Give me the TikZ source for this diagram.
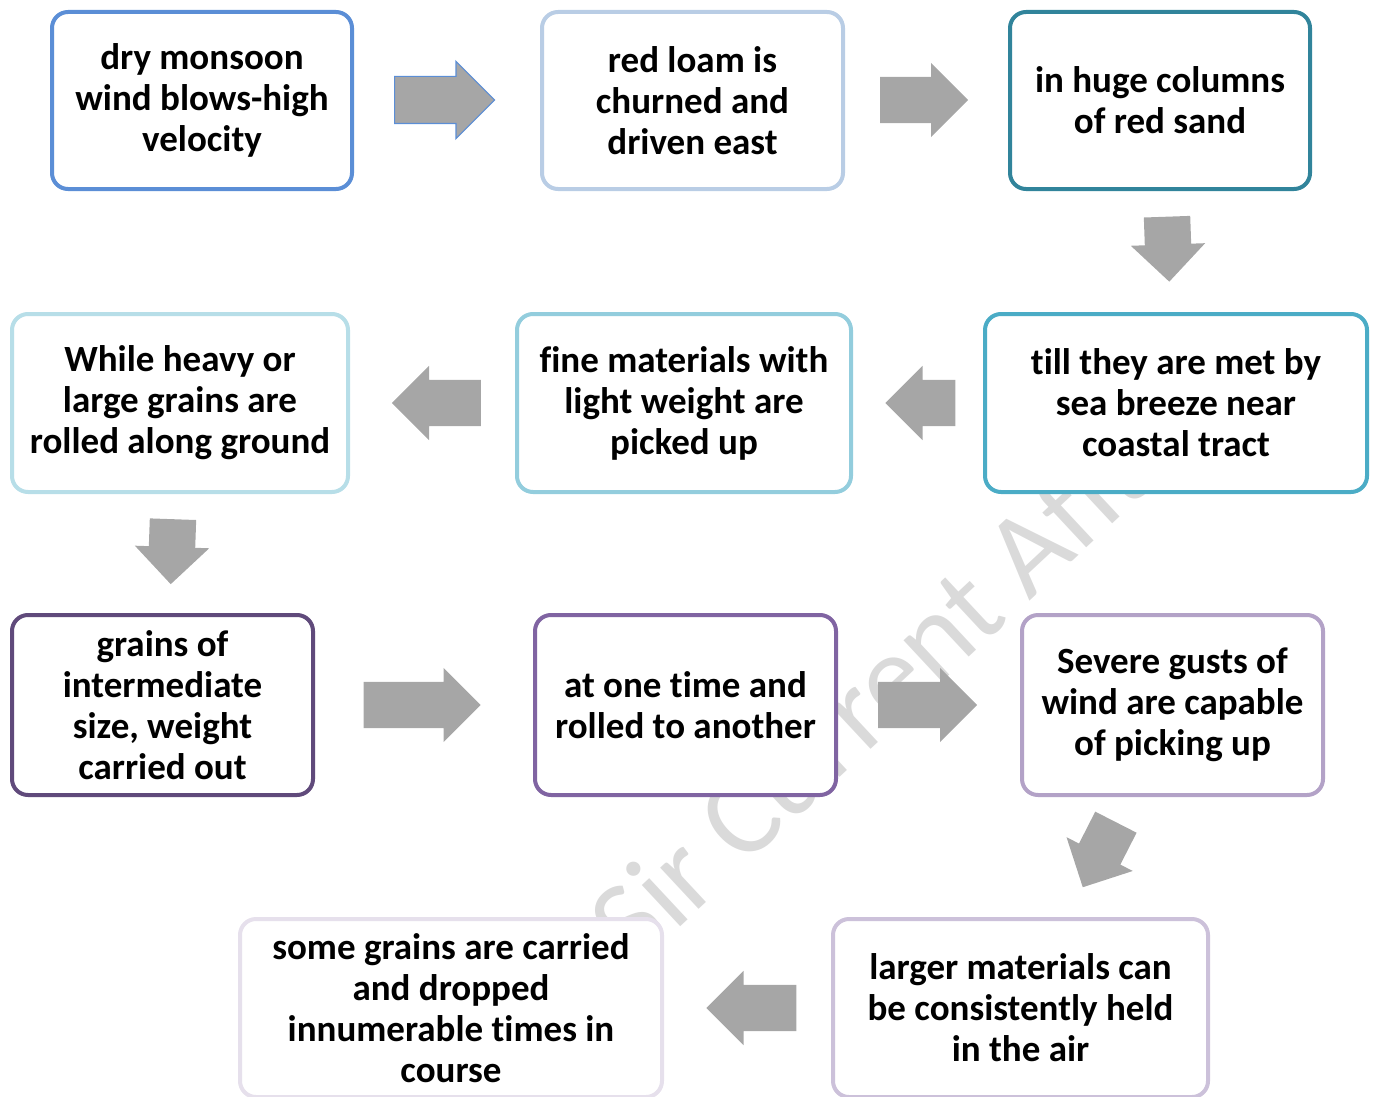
\documentclass[tikz,border=0pt]{standalone}
\usepackage{fontspec}
\setmainfont[Ligatures=NoCommon]{Carlito}
\usepackage{tikz}
\usetikzlibrary{shapes.arrows}
\definecolor{blauA}{rgb}{0.357,0.557,0.839}
\definecolor{blauB}{rgb}{0.725,0.804,0.898}
\definecolor{tuerkisA}{rgb}{0.192,0.518,0.608}
\definecolor{tuerkisB}{rgb}{0.294,0.675,0.776}
\definecolor{tuerkisC}{rgb}{0.576,0.804,0.867}
\definecolor{tuerkisD}{rgb}{0.718,0.871,0.910}
\definecolor{lilaA}{rgb}{0.376,0.290,0.482}
\definecolor{lilaB}{rgb}{0.502,0.392,0.635}
\definecolor{lilaC}{rgb}{0.702,0.635,0.780}
\definecolor{lilaD}{rgb}{0.800,0.757,0.855}
\definecolor{lilaE}{rgb}{0.902,0.878,0.925}
\definecolor{pfeilGrau}{rgb}{0.651,0.651,0.651}
\definecolor{wasserGrau}{rgb}{0.855,0.855,0.855}
\tikzstyle{stage} = [rectangle,rounded corners=16pt,line width=4pt,fill=white,align=center,minimum height=178pt,font=\fontsize{37}{41}\selectfont\bfseries]
\tikzstyle{flow} = [single arrow,draw=none,fill=pfeilGrau,single arrow head extend=14pt,inner xsep=0pt,inner ysep=23pt,anchor=tail]

\begin{document}
\begin{tikzpicture}[x=1pt,y=-1pt]
\useasboundingbox (0,0) rectangle (1378,1097);
\node[anchor=base west,rotate=43,text=wasserGrau,font=\fontsize{118}{120}\selectfont] (mark) at (632,972) {Sir Current Affairs};

\node[stage,draw=blauA,minimum width=300pt,minimum height=177pt] (dry) at (202,100.5) {dry monsoon\\wind blows-high\\velocity};
\node[stage,draw=blauB,minimum width=301pt,minimum height=177pt] (loam) at (692.5,100.5) {red loam is\\churned and\\driven east};
\node[stage,draw=tuerkisA,minimum width=300pt,minimum height=177pt] (columns) at (1160,100.5) {in huge columns\\of red sand};

\node[stage,draw=tuerkisB,minimum width=382pt] (breeze) at (1176,403) {till they are met by\\sea breeze near\\coastal tract};
\node[stage,draw=tuerkisC,minimum width=334pt] (fine) at (684,403) {fine materials with\\light weight are\\picked up};
\node[stage,draw=tuerkisD,minimum width=336pt] (heavy) at (180,403) {While heavy or\\large grains are\\rolled along ground};

\node[stage,draw=lilaA,minimum width=301pt,minimum height=180pt] (inter) at (162.5,705) {grains of\\intermediate\\size, weight\\carried out};
\node[stage,draw=lilaB,minimum width=301pt,minimum height=180pt] (onetime) at (685.5,705) {at one time and\\rolled to another};
\node[stage,draw=lilaC,minimum width=301pt,minimum height=180pt] (gusts) at (1172.5,705) {Severe gusts of\\wind are capable\\of picking up};

\node[stage,draw=lilaD,minimum width=375pt] (larger) at (1020.5,1008) {larger materials can\\be consistently held\\in the air};
\node[stage,draw=lilaE,minimum width=422pt] (some) at (451,1008) {some grains are carried\\and dropped\\innumerable times in\\course};

% block arrows between the stages, placed by their tails
\node[flow,draw=blauA,line width=1.2pt,single arrow head extend=15pt,minimum height=100pt] (a1) at (394,100) {};
\node[flow,minimum height=88pt] (a2) at (880,100) {};
\node[flow,minimum height=65pt,rotate=-88] (a3) at (1167,216.5) {};
\node[flow,minimum height=70pt,rotate=180] (a4) at (955.5,403) {};
\node[flow,minimum height=89pt,rotate=180] (a5) at (481,403) {};
\node[flow,minimum height=65pt,rotate=-92] (a6) at (173,519) {};
\node[flow,minimum height=117pt] (a7) at (363.5,705) {};
\node[flow,minimum height=99pt] (a8) at (878,705) {};
\node[flow,minimum height=73pt,rotate=-117] (a9) at (1116,822) {};
\node[flow,minimum height=90pt,rotate=180] (a10) at (796.5,1008) {};
\end{tikzpicture}
\end{document}
